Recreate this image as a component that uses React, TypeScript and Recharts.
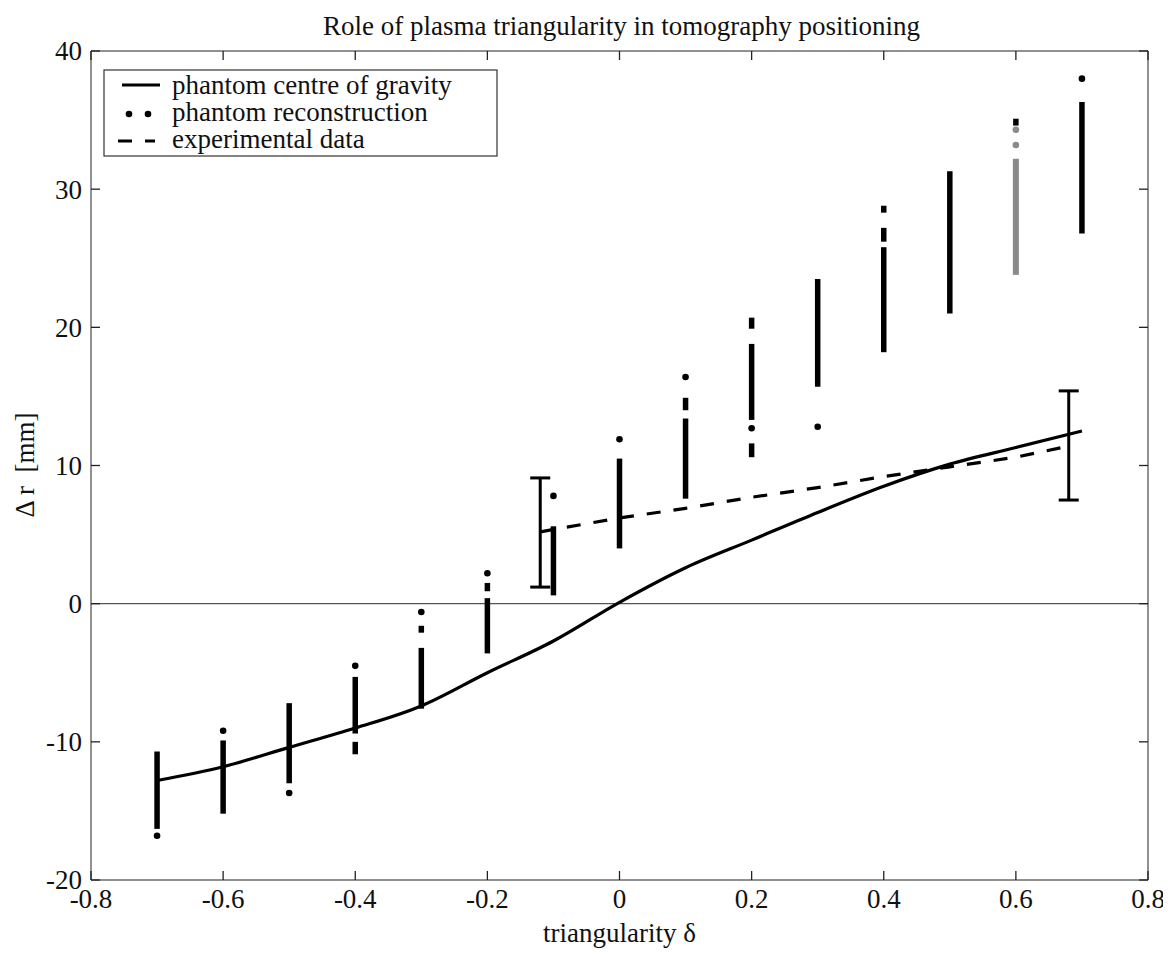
import React from "react";
import {
  ComposedChart,
  ErrorBar,
  Label,
  Line,
  ReferenceLine,
  Scatter,
  XAxis,
  YAxis,
} from "recharts";

// triangularity values used for the phantom scan
const triangularity = [-0.7, -0.6, -0.5, -0.4, -0.3, -0.2, -0.1, 0, 0.1, 0.2, 0.3, 0.4, 0.5, 0.6, 0.7];
const centreOfGravity = [-12.8, -11.8, -10.4, -9.0, -7.4, -5.0, -2.7, 0.1, 2.6, 4.6, 6.6, 8.5, 10.1, 11.3, 12.5];

// experimental data
const expDelta = [-0.12, 0, 0.1, 0.2, 0.3, 0.4, 0.5, 0.6, 0.68];
const expShift = [5.2, 6.2, 6.9, 7.7, 8.4, 9.2, 9.9, 10.6, 11.4];
const expErrDelta = [-0.12, 0.68];
const expErrCentre = [5.15, 11.45];
const expErrHalf = [3.95, 3.95];

// phantom reconstructions: dense runs of points (top..bottom) and lone points
const runDelta = [-0.7, -0.6, -0.5, -0.4, -0.4, -0.3, -0.3, -0.2, -0.2, -0.1, 0, 0.1, 0.1, 0.2, 0.2, 0.2, 0.3, 0.4, 0.4, 0.4, 0.5, 0.6, 0.7];
const runTop = [-10.7, -9.9, -7.2, -5.3, -10.0, -1.6, -3.2, 1.5, 0.4, 5.6, 10.5, 14.9, 13.4, 20.7, 18.8, 11.6, 23.5, 28.8, 27.2, 25.8, 31.3, 35.1, 36.3];
const runBottom = [-16.3, -15.2, -13.0, -9.4, -10.9, -2.1, -7.6, 0.9, -3.6, 0.6, 4.0, 14.0, 7.6, 19.9, 13.3, 10.6, 15.7, 28.3, 26.2, 18.2, 21.0, 34.6, 26.8];
const greyRunDelta = [0.6];
const greyRunTop = [32.2];
const greyRunBottom = [23.8];

const dotDelta = [-0.7, -0.6, -0.5, -0.4, -0.3, -0.2, -0.1, 0, 0.1, 0.2, 0.3, 0.7];
const dotShift = [-16.8, -9.2, -13.7, -4.5, -0.6, 2.2, 7.8, 11.9, 16.4, 12.7, 12.8, 38.0];
const greyDotDelta = [0.6, 0.6];
const greyDotShift = [34.3, 33.2];

const xTicks = [-0.8, -0.6, -0.4, -0.2, 0, 0.2, 0.4, 0.6, 0.8];
const yTicks = [-20, -10, 0, 10, 20, 30, 40];

const legendItems = ["phantom centre of gravity", "phantom reconstruction", "experimental data"];

const font = "'Liberation Serif', 'Times New Roman', serif";
const grey = "#8a8a8a";
const axisColor = "#222";

const cogData = triangularity.map((x, i) => ({ x, y: centreOfGravity[i] }));
const expData = expDelta.map((x, i) => ({ x, y: expShift[i] }));
const expErrData = expErrDelta.map((x, i) => ({ x, y: expErrCentre[i], err: expErrHalf[i] }));
const runs = runDelta.map((x, i) => [
  { x, y: runTop[i] },
  { x, y: runBottom[i] },
]);
const greyRuns = greyRunDelta.map((x, i) => [
  { x, y: greyRunTop[i] },
  { x, y: greyRunBottom[i] },
]);
const dots = dotDelta.map((x, i) => ({ x, y: dotShift[i] }));
const greyDots = greyDotDelta.map((x, i) => ({ x, y: greyDotShift[i] }));

const dotShape = (color: string) => (props: any) =>
  <circle cx={props.cx} cy={props.cy} r={3.3} fill={color} />;

// matlab style ticks: pointing into the plot box
const TICK = 9;
const BottomTick = (props: any) => {
  const { x, y, payload } = props;
  return (
    <g>
      <path d={`M${x},${y}V${y - TICK}`} stroke={axisColor} strokeWidth={1.3} />
      <text x={x} y={y + 28} textAnchor="middle" fontSize={27} fontFamily={font} fill="#111">
        {String(payload.value)}
      </text>
    </g>
  );
};
const LeftTick = (props: any) => {
  const { x, y, payload } = props;
  return (
    <g>
      <path d={`M${x},${y}H${x + TICK}`} stroke={axisColor} strokeWidth={1.3} />
      <text x={x - 9} y={y} dy="0.35em" textAnchor="end" fontSize={27} fontFamily={font} fill="#111">
        {String(payload.value)}
      </text>
    </g>
  );
};
const TopTick = (props: any) => (
  <path d={`M${props.x},${props.y}V${props.y + TICK}`} stroke={axisColor} strokeWidth={1.3} />
);
const RightTick = (props: any) => (
  <path d={`M${props.x},${props.y}H${props.x - TICK}`} stroke={axisColor} strokeWidth={1.3} />
);

function Overlay() {
  return (
    <svg
      width={1160}
      height={940}
      style={{ position: "absolute", left: 0, top: 0, pointerEvents: "none" }}
      fontFamily={font}
    >
      <text x={315} y={27} fontSize={27} fill="#111">
        Role of plasma triangularity in tomography positioning
      </text>
      <text
        x={17}
        y={457}
        fontSize={27}
        fill="#111"
        textAnchor="middle"
        dominantBaseline="central"
        transform="rotate(-90 17 457)"
        style={{ whiteSpace: "pre" }}
      >
        {"\u0394 r  [mm]"}
      </text>

      <rect x={96} y={62} width={393} height={86} fill="#fff" stroke="#333" strokeWidth={1.2} />
      <line x1={114} x2={152} y1={77} y2={77} stroke="#000" strokeWidth={3} />
      <circle cx={121} cy={106} r={3.3} fill="#000" />
      <circle cx={140} cy={106} r={3.3} fill="#000" />
      <line x1={110} x2={124} y1={133} y2={133} stroke="#000" strokeWidth={3} />
      <line x1={137} x2={147} y1={133} y2={133} stroke="#000" strokeWidth={3} />
      {legendItems.map((label, i) => (
        <text key={label} x={164} y={86 + i * 27} fontSize={27} fill="#111">
          {label}
        </text>
      ))}
    </svg>
  );
}

export default function App() {
  return (
    <div style={{ position: "relative", width: 1160, height: 940 }}>
      <ComposedChart
        width={1160}
        height={940}
        margin={{ top: 33, right: 10, bottom: 6, left: 23 }}
      >
        <XAxis
          dataKey="x"
          type="number"
          domain={[-0.8, 0.8]}
          ticks={xTicks}
          height={62}
          tickSize={0}
          tickMargin={0}
          tickLine={false}
          stroke={axisColor}
          tick={<BottomTick />}
          interval={0}
          allowDataOverflow
        >
          <Label
            value="triangularity δ"
            position="insideBottom"
            offset={0}
            style={{ fontSize: 27, fontFamily: font, fill: "#111" }}
          />
        </XAxis>
        <XAxis
          xAxisId="top"
          orientation="top"
          dataKey="x"
          type="number"
          domain={[-0.8, 0.8]}
          ticks={xTicks}
          height={10}
          tickSize={0}
          tickMargin={0}
          tickLine={false}
          tick={<TopTick />}
          stroke={axisColor}
          interval={0}
          allowDataOverflow
        />
        <YAxis
          dataKey="y"
          type="number"
          domain={[-20, 40]}
          ticks={yTicks}
          width={60}
          tickSize={0}
          tickMargin={0}
          tickLine={false}
          stroke={axisColor}
          tick={<LeftTick />}
          interval={0}
          allowDataOverflow
        />
        <YAxis
          yAxisId="right"
          orientation="right"
          dataKey="y"
          type="number"
          domain={[-20, 40]}
          ticks={yTicks}
          width={10}
          tickSize={0}
          tickMargin={0}
          tickLine={false}
          tick={<RightTick />}
          stroke={axisColor}
          interval={0}
          allowDataOverflow
        />

        <ReferenceLine y={0} stroke="#555" strokeWidth={1.2} />

        {runs.map((seg, i) => (
          <Line
            key={`run-${i}`}
            data={seg}
            dataKey="y"
            type="linear"
            stroke="#000"
            strokeWidth={5.5}
            dot={false}
            activeDot={false}
            isAnimationActive={false}
          />
        ))}
        {greyRuns.map((seg, i) => (
          <Line
            key={`grey-run-${i}`}
            data={seg}
            dataKey="y"
            type="linear"
            stroke={grey}
            strokeWidth={6}
            dot={false}
            activeDot={false}
            isAnimationActive={false}
          />
        ))}
        <Scatter data={dots} dataKey="y" shape={dotShape("#000")} isAnimationActive={false} />
        <Scatter data={greyDots} dataKey="y" shape={dotShape(grey)} isAnimationActive={false} />

        <Line
          data={cogData}
          dataKey="y"
          type="monotone"
          stroke="#000"
          strokeWidth={3.2}
          dot={false}
          activeDot={false}
          isAnimationActive={false}
        />
        {/* experimental series sit on the top/right axes (same scales) so those axes get their ticks */}
        <Line
          xAxisId="top"
          yAxisId="right"
          data={expData}
          dataKey="y"
          type="linear"
          stroke="#000"
          strokeWidth={3.2}
          strokeDasharray="14 13"
          dot={false}
          activeDot={false}
          isAnimationActive={false}
        />
        <Scatter
          xAxisId="top"
          yAxisId="right"
          data={expErrData}
          dataKey="y"
          shape={() => <g />}
          isAnimationActive={false}
        >
          <ErrorBar dataKey="err" direction="y" width={10} stroke="#000" strokeWidth={3} />
        </Scatter>
      </ComposedChart>
      <Overlay />
    </div>
  );
}
